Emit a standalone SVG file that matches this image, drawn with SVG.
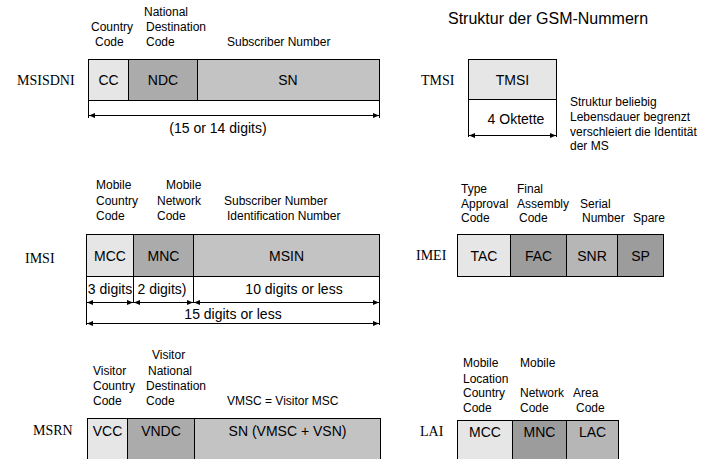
<svg xmlns="http://www.w3.org/2000/svg" width="703" height="459" viewBox="0 0 703 459">
<defs>
<marker id="ah" markerWidth="7" markerHeight="6" refX="6" refY="3" orient="auto-start-reverse" markerUnits="userSpaceOnUse">
<path d="M0,0.5 L6,3 L0,5.5 Z" fill="#000"/>
</marker>
<style>
.lbl{font-family:"Liberation Sans",Arial,sans-serif;font-size:12px;fill:#000}
.bt{font-family:"Liberation Sans",Arial,sans-serif;font-size:14px;fill:#000;text-anchor:middle}
.nm{font-family:"Liberation Serif","Times New Roman",serif;font-size:14px;fill:#000}
.title{font-family:"Liberation Sans",Arial,sans-serif;font-size:16px;fill:#000}
.c1{fill:#e6e6e6;stroke:#000;stroke-width:1}
.c2{fill:#ababab;stroke:#000;stroke-width:1}
.c3{fill:#c3c3c3;stroke:#000;stroke-width:1}
.c4{fill:#9c9c9c;stroke:#000;stroke-width:1}
.c5{fill:#b6b6b6;stroke:#000;stroke-width:1}
.ln{stroke:#000;stroke-width:1;fill:none}
.ar{stroke:#000;stroke-width:1;fill:none;marker-start:url(#ah);marker-end:url(#ah)}
</style>
</defs>
<rect width="703" height="459" fill="#fff"/>
<text class="title" x="448" y="24">Struktur der GSM-Nummern</text>

<g id="msisdn">
<text class="nm" x="17" y="85">MSISDNI</text>
<text class="lbl" x="91" y="31">Country</text>
<text class="lbl" x="95" y="46">Code</text>
<text class="lbl" x="144" y="16">National</text>
<text class="lbl" x="146" y="31">Destination</text>
<text class="lbl" x="146" y="46">Code</text>
<text class="lbl" x="227" y="46">Subscriber Number</text>
<rect class="c1" x="88.5" y="59.5" width="40" height="41"/>
<rect class="c2" x="128.5" y="59.5" width="69" height="41"/>
<rect class="c3" x="197.5" y="59.5" width="182" height="41"/>
<text class="bt" x="108.5" y="85">CC</text>
<text class="bt" x="163" y="85">NDC</text>
<text class="bt" x="288" y="85">SN</text>
<path class="ln" d="M88.5,100.5 V118 M379.5,100.5 V118"/>
<text class="bt" x="218" y="133">(15 or 14 digits)</text>
</g>

<g id="tmsi">
<text class="nm" x="421" y="85">TMSI</text>
<rect class="c1" x="468.5" y="59.5" width="88" height="40"/>
<text class="bt" x="512.5" y="85">TMSI</text>
<path class="ln" d="M468.5,99.5 V137 M556.5,99.5 V137"/>
<text class="bt" x="516" y="124">4 Oktette</text>
<text class="lbl" x="570" y="106">Struktur beliebig</text>
<text class="lbl" x="570" y="121">Lebensdauer begrenzt</text>
<text class="lbl" x="570" y="136">verschleiert die Identität</text>
<text class="lbl" x="570" y="150">der MS</text>
</g>

<g id="imsi">
<text class="nm" x="25" y="263">IMSI</text>
<text class="lbl" x="96" y="189">Mobile</text>
<text class="lbl" x="96" y="205">Country</text>
<text class="lbl" x="96" y="220">Code</text>
<text class="lbl" x="166" y="189">Mobile</text>
<text class="lbl" x="157" y="205">Network</text>
<text class="lbl" x="157" y="220">Code</text>
<text class="lbl" x="224" y="205">Subscriber Number</text>
<text class="lbl" x="227" y="220">Identification Number</text>
<rect class="c1" x="86.5" y="234.5" width="47" height="42"/>
<rect class="c2" x="133.5" y="234.5" width="60" height="42"/>
<rect class="c3" x="193.5" y="234.5" width="186" height="42"/>
<text class="bt" x="110" y="261">MCC</text>
<text class="bt" x="163.5" y="261">MNC</text>
<text class="bt" x="286.5" y="261">MSIN</text>
<path class="ln" d="M86.5,276.5 V325 M379.5,276.5 V325 M133.5,276.5 V303 M193.5,276.5 V303"/>
<text class="bt" x="110" y="294">3 digits</text>
<text class="bt" x="162" y="294">2 digits)</text>
<text class="bt" x="294" y="294">10 digits or less</text>
<text class="bt" x="233" y="319">15 digits or less</text>
</g>

<g id="imei">
<text class="nm" x="416" y="260">IMEI</text>
<text class="lbl" x="461" y="193">Type</text>
<text class="lbl" x="461" y="208">Approval</text>
<text class="lbl" x="461" y="222">Code</text>
<text class="lbl" x="517" y="193">Final</text>
<text class="lbl" x="517" y="208">Assembly</text>
<text class="lbl" x="519" y="222">Code</text>
<text class="lbl" x="580" y="208">Serial</text>
<text class="lbl" x="582" y="222">Number</text>
<text class="lbl" x="633" y="222">Spare</text>
<rect class="c1" x="457.5" y="234.5" width="53" height="42"/>
<rect class="c4" x="510.5" y="234.5" width="56" height="42"/>
<rect class="c5" x="566.5" y="234.5" width="51" height="42"/>
<rect class="c4" x="617.5" y="234.5" width="46" height="42"/>
<text class="bt" x="484" y="261">TAC</text>
<text class="bt" x="538.5" y="261">FAC</text>
<text class="bt" x="592" y="261">SNR</text>
<text class="bt" x="640.5" y="261">SP</text>
</g>

<g id="msrn">
<text class="nm" x="33" y="435">MSRN</text>
<text class="lbl" x="93" y="375">Visitor</text>
<text class="lbl" x="93" y="390">Country</text>
<text class="lbl" x="93" y="405">Code</text>
<text class="lbl" x="152" y="359">Visitor</text>
<text class="lbl" x="148" y="375">National</text>
<text class="lbl" x="146" y="390">Destination</text>
<text class="lbl" x="146" y="405">Code</text>
<text class="lbl" x="227" y="405">VMSC = Visitor MSC</text>
<rect class="c1" x="87.5" y="418.5" width="40" height="50"/>
<rect class="c2" x="127.5" y="418.5" width="67" height="50"/>
<rect class="c3" x="194.5" y="418.5" width="186" height="50"/>
<text class="bt" x="107.5" y="436">VCC</text>
<text class="bt" x="161" y="436">VNDC</text>
<text class="bt" x="287.5" y="436">SN (VMSC + VSN)</text>
</g>

<g id="lai">
<text class="nm" x="420" y="436">LAI</text>
<text class="lbl" x="463" y="367">Mobile</text>
<text class="lbl" x="463" y="383">Location</text>
<text class="lbl" x="463" y="397">Country</text>
<text class="lbl" x="463" y="412">Code</text>
<text class="lbl" x="520" y="367">Mobile</text>
<text class="lbl" x="520" y="397">Network</text>
<text class="lbl" x="520" y="412">Code</text>
<text class="lbl" x="573" y="397">Area</text>
<text class="lbl" x="576" y="412">Code</text>
<rect class="c1" x="457.5" y="420.5" width="55" height="50"/>
<rect class="c4" x="512.5" y="420.5" width="54" height="50"/>
<rect class="c5" x="566.5" y="420.5" width="52" height="50"/>
<text class="bt" x="485" y="437">MCC</text>
<text class="bt" x="539.5" y="437">MNC</text>
<text class="bt" x="592.5" y="437">LAC</text>
</g>

<g id="connectors">
<line class="ar" x1="89" y1="115.5" x2="379" y2="115.5"/>
<line class="ar" x1="469" y1="135.5" x2="556" y2="135.5"/>
<line class="ar" x1="87" y1="302.5" x2="133" y2="302.5"/>
<line class="ar" x1="134" y1="302.5" x2="193" y2="302.5"/>
<line class="ar" x1="194" y1="302.5" x2="379" y2="302.5"/>
<line class="ar" x1="87" y1="323.5" x2="379" y2="323.5"/>
</g>
</svg>
